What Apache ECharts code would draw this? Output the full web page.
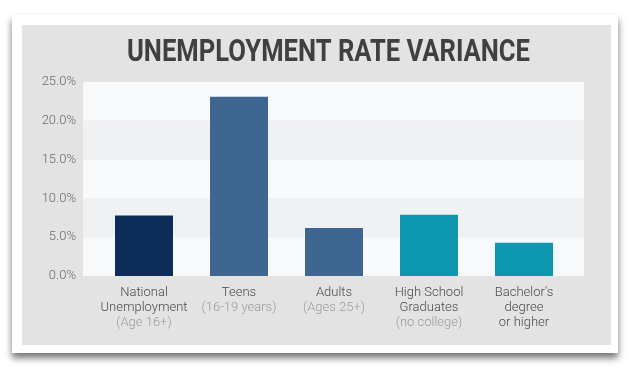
<!DOCTYPE html>
<html>
<head>
<meta charset="utf-8">
<script src="https://cdn.jsdelivr.net/npm/echarts@6/dist/echarts.min.js"></script>
<style>
html,body{margin:0;padding:0;background:#ffffff;}
#c{width:630px;height:371px;}
</style>
</head>
<body>
<div id="c"></div>
<script>
const titleText = 'UNEMPLOYMENT RATE VARIANCE';
const categories = [
  'National\nUnemployment\n(Age 16+)',
  'Teens\n(16-19 years)',
  'Adults\n(Ages 25+)',
  'High School\nGraduates\n(no college)',
  "Bachelor's\ndegree\nor higher"
];
const values = [7.8, 23.1, 6.2, 7.9, 4.3];
const barColors = ['#0c2d57', '#3e6690', '#3e6690', '#0e98b0', '#0e98b0'];
const yTicks = [0, 5, 10, 15, 20, 25];

const chart = echarts.init(document.getElementById('c'), null, {renderer: 'canvas'});

const titleFont = '700 32px Roboto, "Liberation Sans", sans-serif';
const cv = document.createElement('canvas').getContext('2d');
cv.font = titleFont;
const tw = cv.measureText(titleText).width;
const targetW = 403;
const sx = targetW / tw;

const labelFont = 'Roboto, "Liberation Sans", sans-serif';

chart.setOption({
  animation: false,
  backgroundColor: '#ffffff',
  graphic: [
    {type: 'rect', z: -100, silent: true,
     shape: {x: 12, y: 15, width: 606, height: 338},
     style: {fill: '#ffffff', shadowBlur: 7, shadowOffsetY: 5, shadowColor: 'rgba(0,0,0,0.55)'}},
    {type: 'rect', z: -99, silent: true,
     shape: {x: 22, y: 25, width: 589, height: 320},
     style: {fill: '#e3e3e3'}},
    {type: 'text', z: 10, silent: true,
     x: 328.5, y: 52.5, scaleX: sx, scaleY: 1,
     style: {text: titleText, font: titleFont, fill: '#404040', align: 'center', verticalAlign: 'middle'}}
  ],
  grid: [
    {left: 83, right: 46, top: 82, bottom: 95},
    {left: 96.5, right: 58.5, top: 82, bottom: 95}
  ],
  xAxis: [
    {type: 'category', gridIndex: 0, data: categories, show: false},
    {type: 'category', gridIndex: 1, data: categories,
     axisLine: {show: false}, axisTick: {show: false},
     axisLabel: {
       margin: 9, interval: 0,
       formatter: function (v) {
         return v.split('\n').map(function (l) { return (l.charAt(0) === '(' ? '{b|' : '{a|') + l + '}'; }).join('\n');
       },
       rich: {
         a: {fontFamily: labelFont, fontWeight: 300, fontSize: 13, color: '#4a4a4a', lineHeight: 15, align: 'center'},
         b: {fontFamily: labelFont, fontWeight: 300, fontSize: 13, color: '#9a9a9a', lineHeight: 15, align: 'center'}
       }
     }}
  ],
  yAxis: [
    {type: 'value', gridIndex: 0, min: yTicks[0], max: yTicks[yTicks.length - 1], interval: 5,
     axisLine: {show: false}, axisTick: {show: false},
     splitLine: {show: false},
     splitArea: {show: true, areaStyle: {color: ['#f8f9fb', '#f0f1f3']}},
     axisLabel: {margin: 7, fontFamily: labelFont, fontWeight: 300, fontSize: 13, color: '#6a6a6a',
       formatter: function (v) { return v.toFixed(1) + '%'; }}},
    {type: 'value', gridIndex: 1, min: 0, max: 25, interval: 5, show: false, splitLine: {show: false}}
  ],
  series: [
    {type: 'bar', xAxisIndex: 1, yAxisIndex: 1, barWidth: 58,
     data: values.map(function (v, i) { return {value: v, itemStyle: {color: barColors[i]}}; })}
  ]
});
</script>
</body>
</html>
